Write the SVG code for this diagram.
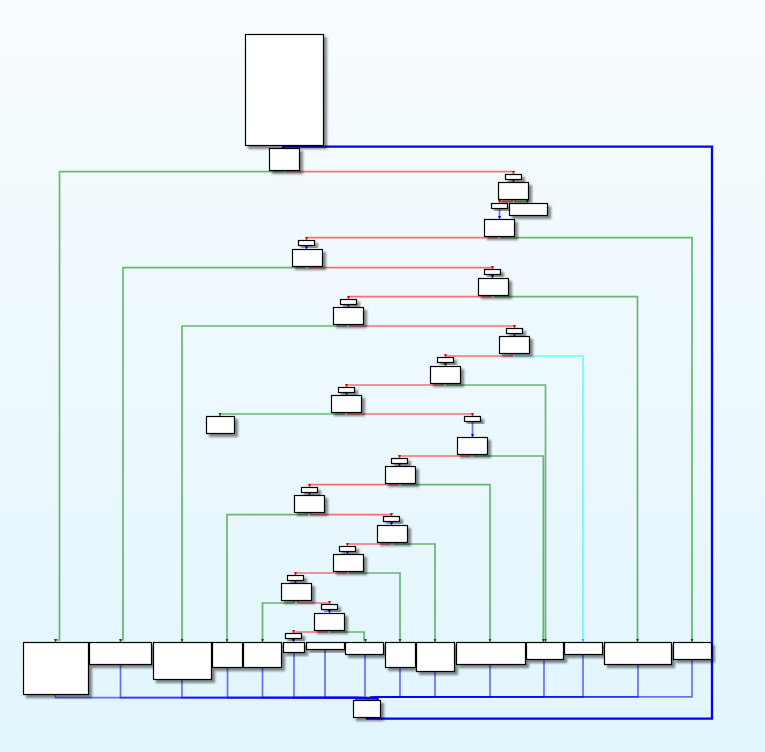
<svg xmlns="http://www.w3.org/2000/svg" width="765" height="752" viewBox="0 0 765 752">
<defs>
<linearGradient id="bg" x1="0" y1="0" x2="0" y2="1">
<stop offset="0" stop-color="#f8fcfe"/>
<stop offset="1" stop-color="#e1f5fd"/>
</linearGradient>
<filter id="sh" x="-20%" y="-20%" width="150%" height="160%">
<feDropShadow dx="3" dy="3" stdDeviation="1.2" flood-color="#000" flood-opacity="0.45"/>
</filter>
<marker id="ag" markerUnits="userSpaceOnUse" markerWidth="4" markerHeight="3" refX="2" refY="3" viewBox="0 0 4 3"><path d="M0.5,0 L3.5,0 L2,3 Z" fill="#006000"/></marker>
<marker id="ar" markerUnits="userSpaceOnUse" markerWidth="4" markerHeight="3" refX="2" refY="3" viewBox="0 0 4 3"><path d="M0.5,0 L3.5,0 L2,3 Z" fill="#e00000"/></marker>
<marker id="ab" markerUnits="userSpaceOnUse" markerWidth="4" markerHeight="3" refX="2" refY="3" viewBox="0 0 4 3"><path d="M0.5,0 L3.5,0 L2,3 Z" fill="#0000e0"/></marker>
<marker id="ac" markerUnits="userSpaceOnUse" markerWidth="4" markerHeight="3" refX="2" refY="3" viewBox="0 0 4 3"><path d="M0.5,0 L3.5,0 L2,3 Z" fill="#00d0d0"/></marker>
</defs>
<style>
.n rect{fill:#fff;stroke:#000;stroke-width:1.2}
.n{filter:url(#sh)}
.e path{fill:none;stroke-width:1.7;stroke-opacity:0.55}
.g{stroke:#008000;marker-end:url(#ag)}
.r{stroke:#ff0000;marker-end:url(#ar)}
.b{stroke:#0000ff;marker-end:url(#ab)}
.c{stroke:#00ffff;marker-end:url(#ac)}
.e path.loop{fill:none;stroke:#0000ff;stroke-width:2.3;stroke-opacity:1}
</style>
<rect width="765" height="752" fill="url(#bg)"/>

<g id="edges" class="e">
<path class="b" d="M283,145.5 V148"/>
<path class="g" d="M283,170.5 V171.7 H59.5 V640 H55.5 V642"/>
<path class="r" d="M286,170.5 V171.7 H513.5 V174"/>
<path class="b" d="M513.5,179.5 V182"/>
<path class="r" d="M512,199.5 V201.7 H499.5 V203"/>
<path class="g" d="M515,199.5 V201.7 H527.5 V203"/>
<path class="b" d="M499.5,208.5 V219"/>
<path class="r" d="M497,236.5 V237.7 H306.5 V240"/>
<path class="g" d="M501,236.5 V237.7 H692 V642"/>
<path class="b" d="M306.5,245.5 V249"/>
<path class="g" d="M305,266.5 V267.7 H123 V640 H120.5 V642"/>
<path class="r" d="M309,266.5 V267.7 H492.5 V269"/>
<path class="b" d="M492.5,274.5 V278"/>
<path class="r" d="M491,295.5 V296.7 H348.5 V299"/>
<path class="g" d="M495,295.5 V296.7 H637.5 V642"/>
<path class="b" d="M348.5,304.5 V307"/>
<path class="g" d="M346,324.5 V326 H182 V642"/>
<path class="r" d="M350,324.5 V326 H514.5 V328"/>
<path class="b" d="M514.5,333.5 V336"/>
<path class="r" d="M512,353.5 V356 H445.5 V357"/>
<path class="c" d="M516,353.5 V356 H583 V642"/>
<path class="b" d="M445.5,362.5 V366"/>
<path class="r" d="M443,383.5 V385 H346.5 V387"/>
<path class="g" d="M447,383.5 V385 H545.5 V642"/>
<path class="b" d="M346.5,392.5 V395"/>
<path class="g" d="M344,412.5 V414 H220 V416"/>
<path class="r" d="M348,412.5 V414 H472.5 V416"/>
<path class="b" d="M472.5,421.5 V437"/>
<path class="r" d="M470,454.5 V456 H399.5 V458"/>
<path class="g" d="M474,454.5 V456 H543.3 V642"/>
<path class="b" d="M399.5,463.5 V466"/>
<path class="r" d="M398,483.5 V484.7 H309.5 V487"/>
<path class="g" d="M402,483.5 V484.7 H490 V642"/>
<path class="b" d="M309.5,492.5 V495"/>
<path class="g" d="M307,512.5 V514.7 H227 V642"/>
<path class="r" d="M311,512.5 V514.7 H391.5 V516"/>
<path class="b" d="M391.5,521.5 V525"/>
<path class="r" d="M390,542.5 V544 H347.5 V546"/>
<path class="g" d="M394,542.5 V544 H435 V642"/>
<path class="b" d="M347.5,551.5 V554"/>
<path class="r" d="M346,571.5 V573 H295.5 V575"/>
<path class="g" d="M350,571.5 V573 H400 V642"/>
<path class="b" d="M295.5,580.5 V583"/>
<path class="g" d="M294,600.5 V603 H262.5 V642"/>
<path class="r" d="M298,600.5 V603 H329.5 V604"/>
<path class="b" d="M329.5,609.5 V613"/>
<path class="r" d="M327,630.5 V632 H293.5 V633"/>
<path class="g" d="M331,630.5 V632 H364 V640 H365.5 V642"/>
<path class="b" d="M293.5,638.5 V642"/>
<path class="b" d="M55.5,694.5 V697.7 H356 V700"/>
<path class="b" d="M120.5,664.5 V697.7 H358 V700"/>
<path class="b" d="M182,679.5 V697.7 H360 V700"/>
<path class="b" d="M227.5,667.5 V697.7 H362 V700"/>
<path class="b" d="M262.5,667.5 V697.7 H364 V700"/>
<path class="b" d="M294,652.5 V697.7 H365.5 V700"/>
<path class="b" d="M325,649.5 V697.7 H367 V700"/>
<path class="b" d="M365,654.5 V697.7 H368.5 V700"/>
<path class="b" d="M400,667.5 V696.8 H370 V700"/>
<path class="b" d="M435,671.5 V696.8 H371.5 V700"/>
<path class="b" d="M490,664.5 V696.8 H373 V700"/>
<path class="b" d="M544,659.5 V696.8 H374.5 V700"/>
<path class="b" d="M583,654.5 V696.8 H376 V700"/>
<path class="b" d="M638,664.5 V696.8 H377 V700"/>
<path class="b" d="M692,659.5 V696.8 H378 V700"/>
<path class="loop" d="M367,717.5 V718.7 H712 V146.7 H283 V148"/>
</g>

<g id="n0" class="n"><rect x="245.5" y="34.5" width="78" height="111"/></g>
<g id="n1" class="n"><rect x="269.5" y="148.5" width="30" height="22"/></g>
<g id="s1" class="n"><rect x="505.5" y="174.5" width="16" height="5"/></g>
<g id="n2" class="n"><rect x="498.5" y="182.5" width="30" height="17"/></g>
<g id="s2" class="n"><rect x="491.5" y="203.5" width="16" height="5"/></g>
<g id="n2b" class="n"><rect x="509.5" y="203.5" width="38" height="12"/></g>
<g id="n3" class="n"><rect x="484.5" y="219.5" width="30" height="17"/></g>
<g id="s3" class="n"><rect x="298.5" y="240.5" width="16" height="5"/></g>
<g id="n4" class="n"><rect x="292.5" y="249.5" width="30" height="17"/></g>
<g id="s4" class="n"><rect x="484.5" y="269.5" width="16" height="5"/></g>
<g id="n5" class="n"><rect x="478.5" y="278.5" width="30" height="17"/></g>
<g id="s5" class="n"><rect x="340.5" y="299.5" width="16" height="5"/></g>
<g id="n6" class="n"><rect x="333.5" y="307.5" width="30" height="17"/></g>
<g id="s6" class="n"><rect x="506.5" y="328.5" width="16" height="5"/></g>
<g id="n7" class="n"><rect x="499.5" y="336.5" width="30" height="17"/></g>
<g id="s7" class="n"><rect x="437.5" y="357.5" width="16" height="5"/></g>
<g id="n8" class="n"><rect x="430.5" y="366.5" width="30" height="17"/></g>
<g id="s8" class="n"><rect x="338.5" y="387.5" width="16" height="5"/></g>
<g id="n9" class="n"><rect x="331.5" y="395.5" width="30" height="17"/></g>
<g id="nx" class="n"><rect x="206.5" y="416.5" width="28" height="17"/></g>
<g id="s9" class="n"><rect x="464.5" y="416.5" width="16" height="5"/></g>
<g id="n10" class="n"><rect x="457.5" y="437.5" width="30" height="17"/></g>
<g id="s10" class="n"><rect x="391.5" y="458.5" width="16" height="5"/></g>
<g id="n11" class="n"><rect x="385.5" y="466.5" width="30" height="17"/></g>
<g id="s11" class="n"><rect x="301.5" y="487.5" width="16" height="5"/></g>
<g id="n12" class="n"><rect x="294.5" y="495.5" width="30" height="17"/></g>
<g id="s12" class="n"><rect x="383.5" y="516.5" width="16" height="5"/></g>
<g id="n13" class="n"><rect x="377.5" y="525.5" width="30" height="17"/></g>
<g id="s13" class="n"><rect x="339.5" y="546.5" width="16" height="5"/></g>
<g id="n14" class="n"><rect x="333.5" y="554.5" width="30" height="17"/></g>
<g id="s14" class="n"><rect x="287.5" y="575.5" width="16" height="5"/></g>
<g id="n15" class="n"><rect x="281.5" y="583.5" width="30" height="17"/></g>
<g id="s15" class="n"><rect x="321.5" y="604.5" width="16" height="5"/></g>
<g id="n16" class="n"><rect x="314.5" y="613.5" width="30" height="17"/></g>
<g id="s16" class="n"><rect x="285.5" y="633.5" width="16" height="5"/></g>

<g id="ba" class="n"><rect x="23.5" y="642.5" width="65" height="52"/></g>
<g id="bb" class="n"><rect x="89.5" y="642.5" width="62" height="22"/></g>
<g id="bc" class="n"><rect x="153.5" y="642.5" width="58" height="37"/></g>
<g id="bd" class="n"><rect x="212.5" y="642.5" width="30" height="25"/></g>
<g id="be" class="n"><rect x="243.5" y="642.5" width="38" height="25"/></g>
<g id="bf" class="n"><rect x="283.5" y="642.5" width="21" height="10"/></g>
<g id="bg2" class="n"><rect x="306.5" y="642.5" width="38" height="7"/></g>
<g id="bh" class="n"><rect x="345.5" y="642.5" width="38" height="12"/></g>
<g id="bi" class="n"><rect x="385.5" y="642.5" width="30" height="25"/></g>
<g id="bj" class="n"><rect x="416.5" y="642.5" width="38" height="29"/></g>
<g id="bk" class="n"><rect x="456.5" y="642.5" width="69" height="22"/></g>
<g id="bl" class="n"><rect x="526.5" y="642.5" width="37" height="17"/></g>
<g id="bm" class="n"><rect x="564.5" y="642.5" width="38" height="12"/></g>
<g id="bn" class="n"><rect x="604.5" y="642.5" width="67" height="22"/></g>
<g id="bo" class="n"><rect x="673.5" y="642.5" width="38" height="17"/></g>
<g id="exit" class="n"><rect x="353.5" y="700.5" width="27" height="17"/></g>
</svg>
